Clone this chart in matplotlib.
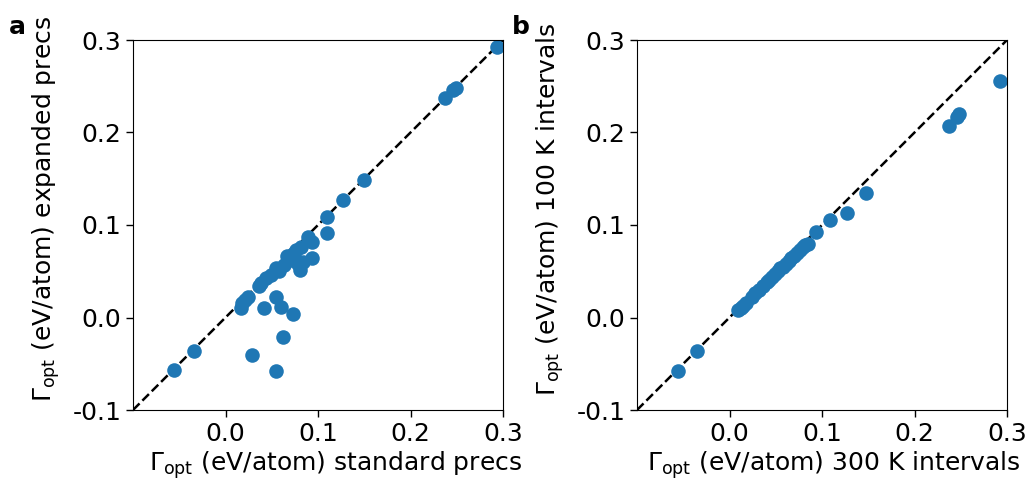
import matplotlib
matplotlib.use("Agg")
import matplotlib.pyplot as plt

plt.rcParams['font.family'] = ['DejaVu Sans']
plt.rcParams['axes.unicode_minus'] = False
plt.rcParams['mathtext.fontset'] = 'dejavusans'

# Panel a: standard precs (x) vs expanded precs (y)
a_x = [-0.0553, -0.0344, 0.0168, 0.018, 0.021, 0.024, 0.0286, 0.036, 0.038, 0.0413,
       0.0438, 0.049, 0.0546, 0.0546, 0.060, 0.0546, 0.0618, 0.0726, 0.0636, 0.067,
       0.070, 0.0744, 0.076, 0.080, 0.0835, 0.082, 0.089, 0.094, 0.094, 0.1097,
       0.110, 0.127, 0.150, 0.2376, 0.2456, 0.249, 0.293, 0.078, 0.072, 0.058]
a_y = [-0.0567, -0.0359, 0.0099, 0.0153, 0.019, 0.0225, -0.0405, 0.034, 0.037, 0.0106,
       0.0424, 0.046, 0.0532, 0.0225, 0.0117, -0.0575, -0.0207, 0.0035, 0.0568, 0.066,
       0.062, 0.0694, 0.073, 0.0514, 0.0603, 0.0765, 0.087, 0.082, 0.064, 0.091,
       0.109, 0.127, 0.149, 0.237, 0.246, 0.248, 0.292, 0.058, 0.068, 0.050]

# Panel b: 300 K intervals (x) vs 100 K intervals (y)
b_x = [-0.0553, -0.0348, 0.0095, 0.012, 0.0149, 0.018, 0.024, 0.028, 0.032, 0.036,
       0.040, 0.043, 0.046, 0.049, 0.052, 0.055, 0.058, 0.061, 0.064, 0.067,
       0.070, 0.073, 0.076, 0.079, 0.082, 0.085, 0.0932, 0.1086, 0.1267, 0.1476,
       0.2376, 0.2456, 0.2484, 0.2924]
b_y = [-0.0575, -0.0362, 0.0081, 0.0105, 0.0124, 0.016, 0.0225, 0.026, 0.030, 0.034,
       0.038, 0.041, 0.044, 0.047, 0.050, 0.053, 0.055, 0.058, 0.061, 0.064,
       0.067, 0.070, 0.073, 0.076, 0.078, 0.080, 0.092, 0.1054, 0.1133, 0.135,
       0.207, 0.2164, 0.220, 0.256]

xticks = [0.0, 0.1, 0.2, 0.3]
yticks = [-0.1, 0.0, 0.1, 0.2, 0.3]
lims = [-0.1, 0.3]

panels = [
    (a_x, a_y, r'$\Gamma_{\mathrm{opt}}$ (eV/atom) standard precs',
     r'$\Gamma_{\mathrm{opt}}$ (eV/atom) expanded precs', 'a', 9, 0.548),
    (b_x, b_y, r'$\Gamma_{\mathrm{opt}}$ (eV/atom) 300 K intervals',
     r'$\Gamma_{\mathrm{opt}}$ (eV/atom) 100 K intervals', 'b', 512, 0.532),
]

fig = plt.figure(figsize=(10.3, 4.8), dpi=100)
lefts = [133 / 1030, 637 / 1030]
W = 370 / 1030
B = 1 - 410 / 480
H = 370 / 480
fs = 18

for (xs, ys, xl, yl, lab, lx, xlc), left in zip(panels, lefts):
    ax = fig.add_axes([left, B, W, H])
    ax.plot(lims, lims, 'k--', lw=1.8, zorder=1)
    ax.scatter(xs, ys, s=110, color='#1f77b4', zorder=2, linewidths=0)
    ax.set_xlim(lims)
    ax.set_ylim(lims)
    ax.set_xticks(xticks)
    ax.set_yticks(yticks)
    ax.set_xticklabels(['%.1f' % t for t in xticks])
    ax.set_yticklabels(['%.1f' % t for t in yticks])
    ax.tick_params(labelsize=fs, length=5, width=1)
    ax.set_xlabel(xl, fontsize=fs)
    ax.set_ylabel(yl, fontsize=fs)
    ax.xaxis.set_label_coords(xlc, -0.105)
    ax.yaxis.set_label_coords(-0.193, 0.543)
    fig.text(lx / 1030, 1 - 27 / 480, lab, fontsize=fs, fontweight='bold',
             va='center', ha='left')

fig.savefig('out.png', dpi=100)
